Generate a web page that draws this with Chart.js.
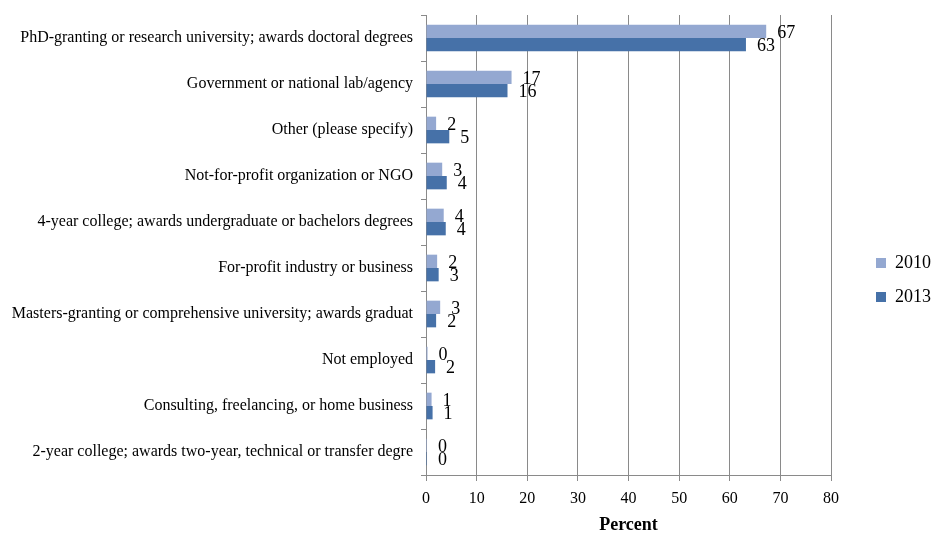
<!DOCTYPE html>
<html>
<head>
<meta charset="utf-8">
<script src="https://cdn.jsdelivr.net/npm/chart.js@4"></script>
<style>
  html, body { margin: 0; padding: 0; background: #fff; }
  #wrap { width: 931px; height: 535px; }
</style>
</head>
<body>
<div id="wrap"><canvas id="myChart" width="931" height="535"></canvas></div>
<script>
const labels = [
    'PhD-granting or research university; awards doctoral degrees',
    'Government or national lab/agency',
    'Other (please specify)',
    'Not-for-profit organization or NGO',
    '4-year college; awards undergraduate or bachelors degrees',
    'For-profit industry or business',
    'Masters-granting or comprehensive university; awards graduat',
    'Not employed',
    'Consulting, freelancing, or home business',
    '2-year college; awards two-year, technical or transfer degre'
];
const values2010 = [67.2, 16.9, 2.0, 3.2, 3.5, 2.2, 2.8, 0.3, 1.1, 0.2];
const values2013 = [63.2, 16.1, 4.6, 4.1, 3.9, 2.5, 2.0, 1.8, 1.3, 0.2];
const xTicks = [0, 10, 20, 30, 40, 50, 60, 70, 80];

const serif = "'Liberation Serif', 'Times New Roman', serif";

// value labels at the end of each bar
const barLabels = {
    id: 'barLabels',
    afterDatasetsDraw(chart) {
        const ctx = chart.ctx;
        ctx.save();
        ctx.font = '18px ' + serif;
        ctx.fillStyle = '#000';
        ctx.textAlign = 'left';
        ctx.textBaseline = 'middle';
        chart.data.datasets.forEach((ds, i) => {
            const meta = chart.getDatasetMeta(i);
            meta.data.forEach((bar, j) => {
                ctx.fillText(String(Math.round(ds.data[j])), bar.x + 11, bar.y + 1.5);
            });
        });
        ctx.restore();
    }
};

// nudge the legend box over to the right edge, a little lower
const legendShift = {
    id: 'legendShift',
    afterLayout(chart) {
        const lg = chart.legend;
        if (!lg) return;
        const dx = 29, dy = 5;
        lg.left += dx; lg.right += dx;
        lg.top += dy; lg.bottom += dy;
    }
};

const data = {
    labels: labels,
    datasets: [{
        label: '2010',
        backgroundColor: '#94A8D1',
        data: values2010,
        categoryPercentage: 0.58,
        barPercentage: 1.0
    }, {
        label: '2013',
        backgroundColor: '#4671A8',
        data: values2013,
        categoryPercentage: 0.58,
        barPercentage: 1.0
    }]
};

const config = {
    type: 'bar',
    data: data,
    options: {
        indexAxis: 'y',
        responsive: false,
        animation: false,
        layout: { padding: { top: 15, right: 19, left: 0, bottom: 0 } },
        plugins: {
            tooltip: { enabled: false },
            legend: {
                position: 'right',
                labels: {
                    boxWidth: 10,
                    boxHeight: 10,
                    padding: 16,
                    color: '#000',
                    font: { family: serif, size: 18 }
                }
            }
        },
        scales: {
            x: {
                min: 0,
                max: 80,
                afterBuildTicks(scale) {
                    scale.ticks = xTicks.map(v => ({ value: v }));
                },
                afterFit(scale) { scale.height = 60; },
                grid: {
                    color: '#8a8a8a',
                    tickLength: 6
                },
                border: { color: '#8a8a8a' },
                ticks: {
                    color: '#000',
                    padding: 8,
                    font: { family: serif, size: 16 }
                },
                title: {
                    display: true,
                    text: 'Percent',
                    color: '#000',
                    padding: { top: 4, bottom: 0 },
                    font: { family: serif, size: 18, weight: 'bold', lineHeight: 1.1 }
                }
            },
            y: {
                afterFit(scale) {
                    scale.width = 426;
                    scale.paddingTop = 0;
                    scale.paddingBottom = 0;
                },
                grid: {
                    drawOnChartArea: false,
                    color: '#8a8a8a',
                    tickLength: 5,
                    offset: true
                },
                border: { color: '#8a8a8a' },
                ticks: {
                    color: '#000',
                    padding: 8,
                    autoSkip: false,
                    font: { family: serif, size: 16 }
                }
            }
        }
    },
    plugins: [barLabels, legendShift]
};

const myChart = new Chart(
    document.getElementById('myChart'),
    config
    );
</script>
</body>
</html>
